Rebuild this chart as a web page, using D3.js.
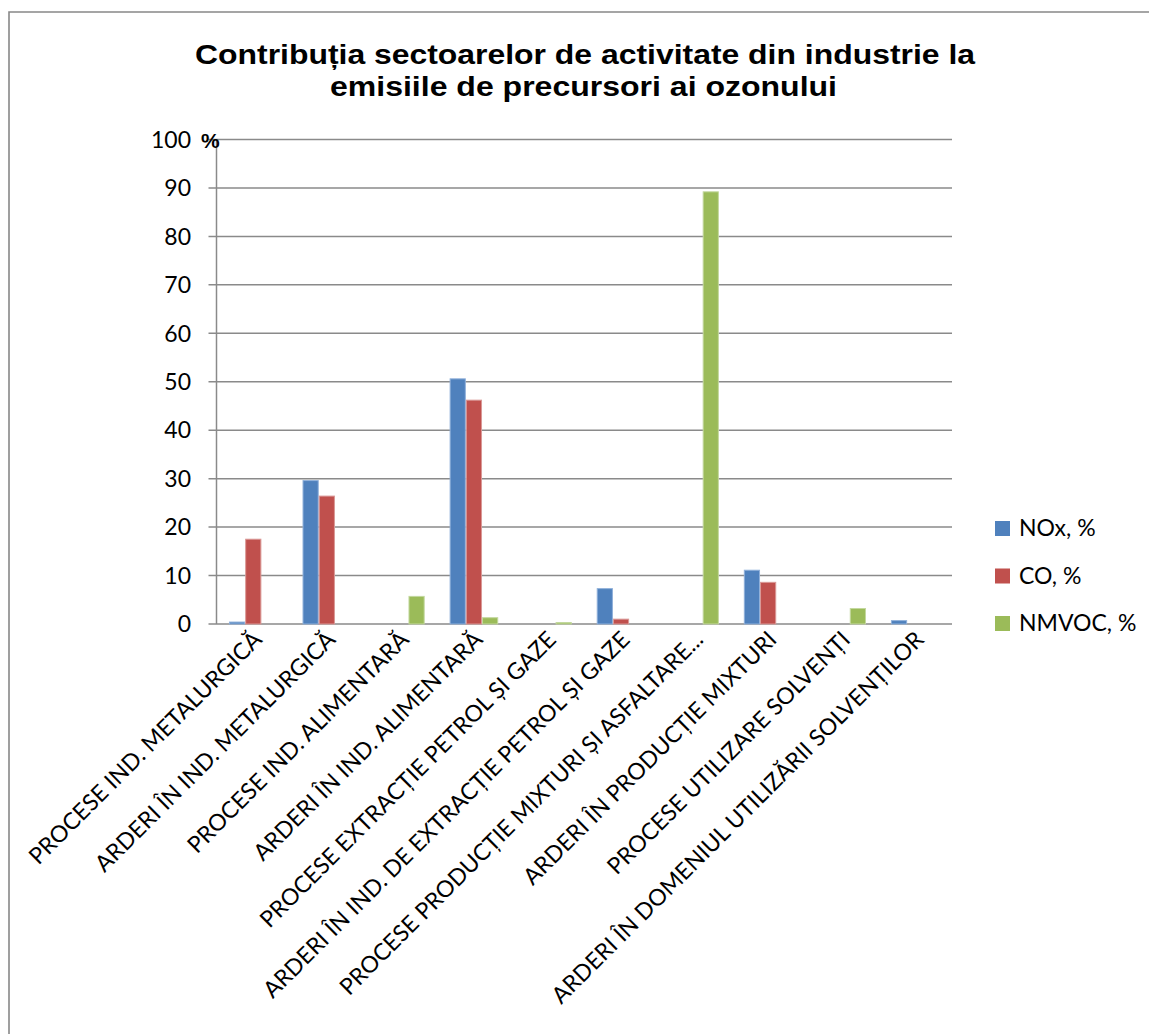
<!DOCTYPE html>
<html><head><meta charset="utf-8">
<script src="https://cdn.jsdelivr.net/npm/d3@7"></script>
<style>body{margin:0;background:#fff}</style>
</head><body>
<script>
const categories = [
  "PROCESE IND. METALURGICĂ",
  "ARDERI ÎN IND. METALURGICĂ",
  "PROCESE IND. ALIMENTARĂ",
  "ARDERI ÎN IND. ALIMENTARĂ",
  "PROCESE EXTRACȚIE PETROL ȘI GAZE",
  "ARDERI ÎN IND. DE EXTRACȚIE PETROL ȘI GAZE",
  "PROCESE PRODUCȚIE MIXTURI ȘI ASFALTARE...",
  "ARDERI ÎN PRODUCȚIE MIXTURI",
  "PROCESE UTILIZARE SOLVENȚI",
  "ARDERI ÎN DOMENIUL UTILIZĂRII SOLVENȚILOR"
];
const seriesNames = ["NOx, %", "CO, %", "NMVOC, %"];
const nox   = [0.4, 29.6, 0, 50.6, 0, 7.3, 0, 11.1, 0, 0.7];
const co    = [17.5, 26.4, 0, 46.2, 0, 1.0, 0, 8.6, 0, 0];
const nmvoc = [0, 0, 5.7, 1.3, 0.3, 0, 89.2, 0, 3.2, 0];
const yTicks = [0, 10, 20, 30, 40, 50, 60, 70, 80, 90, 100];
const title = ["Contribuția sectoarelor de activitate din industrie la", "emisiile de precursori ai ozonului"];
const colors = ["#4F81BD", "#C0504D", "#9BBB59"];
const strokes = ["#8FB0DA", "#DA9896", "#C3D89E"];

const W = 1149, H = 1034;
const svg = d3.select("body").append("svg").attr("width", W).attr("height", H);
svg.append("rect").attr("width", W).attr("height", H).attr("fill", "#fff");
// outer border
svg.append("path").attr("d", `M9,${H+5} L9,12 L${W+5},12`).attr("fill","none").attr("stroke","#888").attr("stroke-width",1.6);

const x0 = 216.5, x1 = 952, y0 = 624, y1 = 139.5;
const x = d3.scaleBand().domain(categories).range([x0, x1]).paddingInner(0).paddingOuter(0);
const bw = 16.2;
const xs = d3.scaleBand().domain(seriesNames).range([0, bw*3]);
const y = d3.scaleLinear().domain([0, 100]).range([y0, y1]);

// gridlines
svg.append("g").selectAll("line").data(yTicks).join("line")
  .attr("x1", x0 - 8).attr("x2", x1).attr("y1", d => y(d)).attr("y2", d => y(d))
  .attr("stroke", "#8a8a8a").attr("stroke-width", 1.5);
// y axis line
svg.append("line").attr("x1", x0).attr("x2", x0).attr("y1", y1).attr("y2", y0)
  .attr("stroke", "#8a8a8a").attr("stroke-width", 1.5);

// y tick labels
svg.append("g").selectAll("text").data(yTicks).join("text")
  .attr("x", 191).attr("y", d => y(d)).attr("dy", "0.36em")
  .attr("text-anchor", "end").attr("font-family", "Lato, 'Open Sans', sans-serif")
  .attr("font-size", 23).attr("fill", "#000").text(d => d);
svg.append("text").attr("x", 201).attr("y", y(100)+8).attr("font-family", "Liberation Sans, Arial, sans-serif")
  .attr("font-weight", "bold").attr("font-size", 21).text("%");

// bars
const data = [nox, co, nmvoc];
const pad = (x.bandwidth() - bw*3)/2;
data.forEach((vals, si) => {
  svg.append("g").selectAll("rect").data(vals.map((v, i) => ({v, c: categories[i]})).filter(d => d.v > 0)).join("rect")
    .attr("x", d => x(d.c) + pad + xs(seriesNames[si]) + 0.5)
    .attr("y", d => y(d.v))
    .attr("width", xs.bandwidth() - 1)
    .attr("height", d => y(0) - y(d.v))
    .attr("fill", colors[si]).attr("stroke", strokes[si]).attr("stroke-width", 1);
});

// category labels
svg.append("g").selectAll("text").data(categories).join("text")
  .attr("transform", d => `translate(${x(d) + x.bandwidth()/2 + 10},${y0 + 17}) rotate(-45)`)
  .attr("text-anchor", "end").attr("font-family", "Lato, 'Open Sans', sans-serif")
  .attr("font-size", 23).attr("fill", "#000").text(d => d);

// title
const tl = [780, 507], tx = [585, 583.5];
svg.append("g").selectAll("text").data(title).join("text")
  .attr("x", (d, i) => tx[i]).attr("y", (d, i) => 63.5 + i*32).attr("text-anchor", "middle")
  .attr("textLength", (d, i) => tl[i]).attr("lengthAdjust", "spacingAndGlyphs")
  .attr("font-family", "Liberation Sans, Arial, sans-serif").attr("font-weight", "bold")
  .attr("font-size", 28).attr("fill", "#000").text(d => d);

// legend
const lg = svg.append("g").selectAll("g").data(seriesNames).join("g")
  .attr("transform", (d, i) => `translate(995,${528 + i*47.5})`);
lg.append("rect").attr("x", 0).attr("y", -7).attr("width", 15).attr("height", 15).attr("fill", (d, i) => colors[i]);
lg.append("text").attr("x", 24).attr("y", 0).attr("dy", "0.36em")
  .attr("font-family", "Lato, 'Open Sans', sans-serif").attr("font-size", 23).text(d => d);
</script>
</body></html>
